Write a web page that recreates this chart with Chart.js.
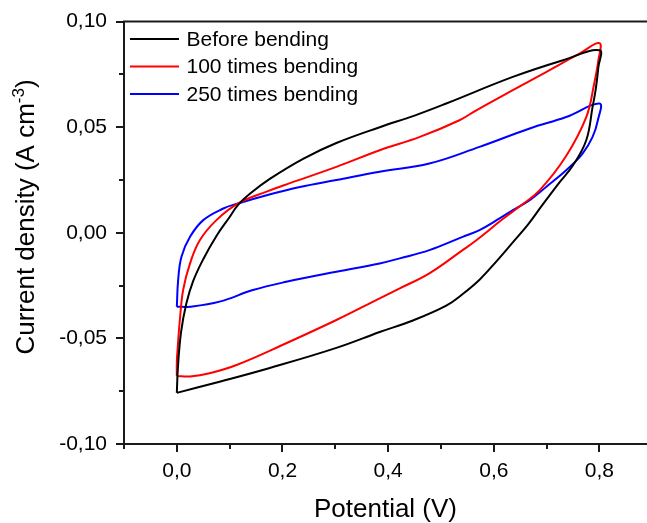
<!DOCTYPE html>
<html>
<head>
<meta charset="utf-8">
<script src="https://cdn.jsdelivr.net/npm/chart.js@4.4.1/dist/chart.umd.min.js"></script>
<style>
  body { margin: 0; background: #fff; }
  #wrap { width: 647px; height: 523px; }
</style>
</head>
<body>
<div id="wrap"><canvas id="cv-chart" width="647" height="523"></canvas></div>
<script>
// Dati (potenziale in V, densita' di corrente in A cm-3), in ordine di scansione
var before_x = [0, 0.002, 0.008, 0.018, 0.031, 0.05, 0.075, 0.1, 0.116, 0.14, 0.176, 0.239, 0.302, 0.384, 0.45, 0.51, 0.636, 0.731, 0.8,
                0.798, 0.793, 0.787, 0.775, 0.75, 0.72, 0.69, 0.665, 0.636, 0.605, 0.573, 0.54, 0.51, 0.447, 0.384, 0.302, 0.176, 0.081, 0];
var before_y = [-0.0758, -0.064, -0.047, -0.0335, -0.0228, -0.0125, -0.0015, 0.0075, 0.0132, 0.0188, 0.0255, 0.035, 0.0425, 0.05, 0.0555, 0.0612, 0.0738, 0.0817, 0.0864,
                0.0785, 0.068, 0.0596, 0.0438, 0.032, 0.0225, 0.0125, 0.004, -0.0045, -0.0135, -0.0222, -0.0292, -0.0345, -0.0415, -0.047, -0.0545, -0.064, -0.0705, -0.0758];

var b100_x = [0, 0, 0.0015, 0.0057, 0.012, 0.025, 0.0435, 0.075, 0.116, 0.17, 0.214, 0.302, 0.384, 0.46, 0.535, 0.567, 0.636, 0.699, 0.762, 0.8,
              0.798, 0.79, 0.775, 0.736, 0.687, 0.655, 0.617, 0.567, 0.541, 0.478, 0.422, 0.384, 0.302, 0.207, 0.113, 0.062, 0.025, 0];
var b100_y = [-0.0678, -0.061, -0.055, -0.0413, -0.027, -0.0145, -0.0035, 0.006, 0.0139, 0.0195, 0.0235, 0.0312, 0.0391, 0.0454, 0.0533, 0.058, 0.0675, 0.0761, 0.0848, 0.0898,
              0.0817, 0.0706, 0.0548, 0.036, 0.0202, 0.0136, 0.0065, -0.0035, -0.0082, -0.0192, -0.0263, -0.031, -0.0413, -0.0523, -0.0626, -0.0665, -0.068, -0.0678];

var b250_x = [0, 0.0025, 0.0088, 0.025, 0.05, 0.088, 0.116, 0.17, 0.233, 0.302, 0.384, 0.478, 0.573, 0.668, 0.737, 0.8,
              0.797, 0.787, 0.768, 0.737, 0.699, 0.668, 0.636, 0.611, 0.573, 0.541, 0.478, 0.422, 0.384, 0.302, 0.207, 0.144, 0.081, 0.025, 0];
var b250_y = [-0.035, -0.0224, -0.0113, -0.0019, 0.006, 0.0115, 0.0139, 0.0178, 0.0217, 0.025, 0.0289, 0.0328, 0.0407, 0.0494, 0.0548, 0.0612,
              0.0533, 0.0454, 0.0375, 0.0296, 0.0217, 0.0155, 0.0107, 0.0068, 0.0013, -0.0019, -0.0082, -0.0121, -0.0145, -0.0184, -0.0232, -0.0271, -0.0326, -0.035, -0.035];

// Tacche
var xTicks = [0, 0.2, 0.4, 0.6, 0.8];
var yTicks = [-0.10, -0.05, 0, 0.05, 0.10];
var xMinor = [-0.1, 0.1, 0.3, 0.5, 0.7];
var yMinor = [-0.075, -0.025, 0.025, 0.075];

function $each(arr, fn){ for (var i = 0; i < arr.length; i++) fn(i, arr[i]); }
const toPoints = function(xs, ys){
	var pts = [];
	$each(xs, function(i, v){ pts.push({x: v, y: ys[i]}); });
	return pts;
};

// Tacche minori, bordo superiore, legenda e titolo asse y (con apice)
const extrasPlugin = {
	id: 'extras',
	afterDraw: function(chart){
		var ctx = chart.ctx, area = chart.chartArea;
		var sx = chart.scales.x, sy = chart.scales.y;
		ctx.save();
		ctx.strokeStyle = '#1a1a1a';
		ctx.lineWidth = 2;
		ctx.beginPath();
		ctx.moveTo(area.left - 1, area.top);
		ctx.lineTo(area.right, area.top);
		$each(xMinor, function(i, v){
			var px = Math.round(sx.getPixelForValue(v));
			ctx.moveTo(px, area.bottom);
			ctx.lineTo(px, area.bottom + 5);
		});
		$each(yMinor, function(i, v){
			var py = Math.round(sy.getPixelForValue(v));
			ctx.moveTo(area.left, py);
			ctx.lineTo(area.left - 5, py);
		});
		ctx.stroke();

		// legenda
		ctx.font = "21px 'Liberation Sans', Arial, sans-serif";
		ctx.textBaseline = 'middle';
		ctx.textAlign = 'left';
		$each(chart.data.datasets, function(i, ds){
			var ly = area.top + 17.5 + i * 27.5;
			ctx.strokeStyle = ds.borderColor;
			ctx.lineWidth = 2;
			ctx.beginPath();
			ctx.moveTo(area.left + 6, ly);
			ctx.lineTo(area.left + 55, ly);
			ctx.stroke();
			ctx.fillStyle = '#000';
			ctx.fillText(ds.label, area.left + 62.5, ly + 1);
		});

		// titolo asse y
		var main = 'Current density (A cm', sup = '-3', close = ')';
		ctx.font = "26px 'Liberation Sans', Arial, sans-serif";
		var w1 = ctx.measureText(main).width, w3 = ctx.measureText(close).width;
		ctx.font = "17px 'Liberation Sans', Arial, sans-serif";
		var w2 = ctx.measureText(sup).width;
		var total = w1 + w2 + w3;
		ctx.translate(34, 217);
		ctx.rotate(-Math.PI / 2);
		ctx.textBaseline = 'alphabetic';
		ctx.fillStyle = '#000';
		ctx.font = "26px 'Liberation Sans', Arial, sans-serif";
		ctx.fillText(main, -total / 2, 0);
		ctx.fillText(close, -total / 2 + w1 + w2, 0);
		ctx.font = "17px 'Liberation Sans', Arial, sans-serif";
		ctx.fillText(sup, -total / 2 + w1, -10);
		ctx.restore();
	}
};

Chart.defaults.font.family = "'Liberation Sans', Arial, sans-serif";
Chart.defaults.color = '#000';

var ctx = document.getElementById('cv-chart').getContext('2d');
var myChart = new Chart(ctx, {
	type: 'scatter',
	data: {
		datasets: [{
			label: 'Before bending',
			data: toPoints(before_x, before_y),
			borderColor: '#000000',
			backgroundColor: '#000000'
		},{
			label: '100 times bending',
			data: toPoints(b100_x, b100_y),
			borderColor: '#ff0000',
			backgroundColor: '#ff0000'
		},{
			label: '250 times bending',
			data: toPoints(b250_x, b250_y),
			borderColor: '#0000ff',
			backgroundColor: '#0000ff'
		}]
	},
	options: {
		responsive: false,
		animation: false,
		datasets: {
			scatter: { showLine: true, pointRadius: 0, borderWidth: 2, tension: 0.4 }
		},
		layout: { padding: { top: 21, right: 0, left: 0, bottom: 0 } },
		plugins: {
			tooltip: { enabled: false },
			legend: { display: false }
		},
		scales: {
			x: {
				type: 'linear',
				min: -0.1,
				max: 0.89,
				afterFit: function(s){ s.height = 79; },
				afterBuildTicks: function(s){ s.ticks = xTicks.map(function(v){ return {value: v}; }); },
				ticks: {
					font: { size: 21 },
					color: '#000',
					padding: 7,
					maxRotation: 0,
					callback: function(v){ return v.toFixed(1).replace('.', ','); }
				},
				grid: { drawOnChartArea: false, tickLength: 8, lineWidth: 2, tickColor: '#1a1a1a' },
				border: { color: '#1a1a1a', width: 2 },
				title: {
					display: true,
					text: 'Potential (V)',
					color: '#000',
					font: { size: 26, lineHeight: 1 },
					padding: { top: 0, bottom: 0 }
				}
			},
			y: {
				type: 'linear',
				min: -0.10,
				max: 0.10,
				afterFit: function(s){ s.width = 124; },
				afterBuildTicks: function(s){ s.ticks = yTicks.map(function(v){ return {value: v}; }); },
				ticks: {
					font: { size: 21 },
					color: '#000',
					padding: 9,
					callback: function(v){ return v.toFixed(2).replace('.', ','); }
				},
				grid: { drawOnChartArea: false, tickLength: 8, lineWidth: 2, tickColor: '#1a1a1a' },
				border: { color: '#1a1a1a', width: 2 },
				title: { display: false }
			}
		}
	},
	plugins: [extrasPlugin]
});
</script>
</body>
</html>
